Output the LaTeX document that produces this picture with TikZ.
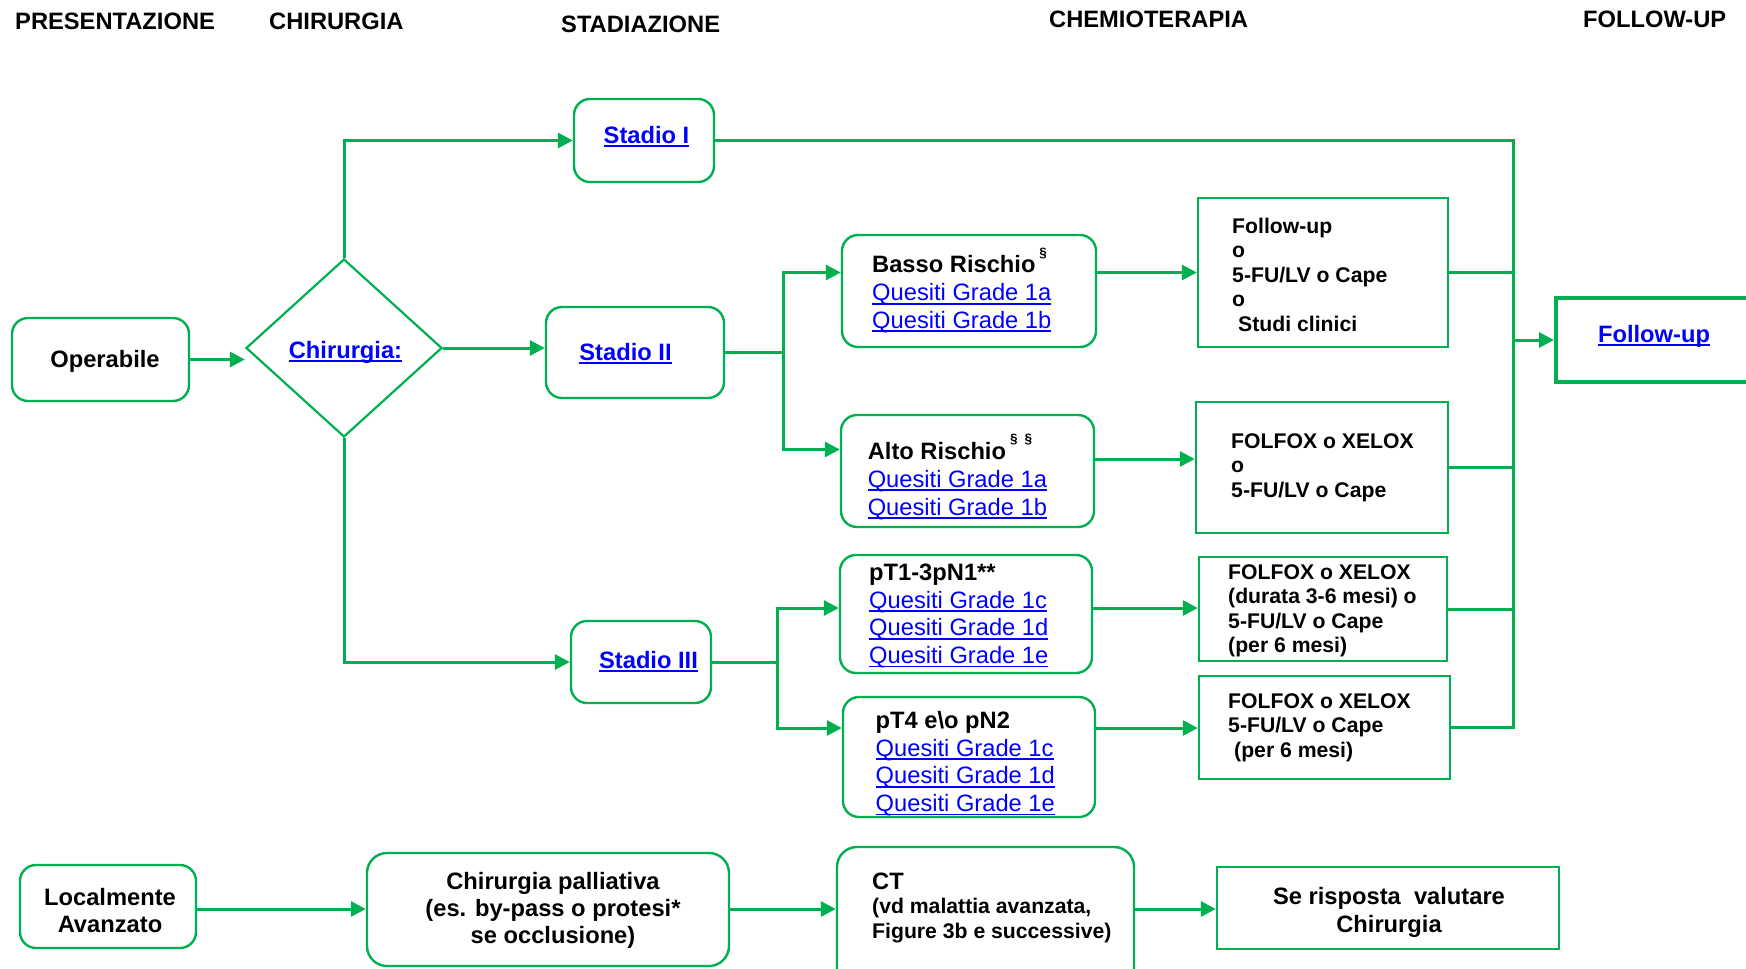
\documentclass[tikz,border=0pt]{standalone}
\usepackage{fontspec}
\setmainfont{Liberation Sans}
\usetikzlibrary{arrows.meta,shapes.geometric,calc}
\definecolor{grn}{HTML}{00B050}
\definecolor{lnkblue}{HTML}{0000FF}
% blue underlined link text
\newcommand\lnk[1]{{\color{lnkblue}\setbox0=\hbox{#1}\rlap{\rule[-3.8pt]{\wd0}{1.9pt}}\box0}}
% invisible strut fixing the height of a first line
\newcommand\tstrut[1]{\rule{0pt}{#1}}
% small raised footnote mark
\newcommand\supmark[2]{\raisebox{#1}{\bfseries\fontsize{13.5}{13.5}\selectfont #2}}

\begin{document}
\begin{tikzpicture}[x=1pt,y=-1pt,
  conn/.style={draw=grn,line width=3pt},
  arr/.style={conn,-{Triangle[length=15pt,width=15pt]}},
  rbox/.style={draw=grn,line width=2.4pt,rounded corners=16pt,inner sep=0pt},
  sbox/.style={draw=grn,line width=2.4pt,inner sep=0pt},
  dia/.style={draw=grn,line width=2.2pt,diamond,inner sep=0pt},
  head/.style={inner sep=0pt,anchor=base west,font=\bfseries\fontsize{23.7}{28}\selectfont},
  lbl/.style={inner sep=0pt,anchor=base,font=\bfseries\fontsize{23.7}{28}\selectfont},
  blk/.style={inner sep=0pt,anchor=north west,align=left,font=\fontsize{23.7}{27.8}\selectfont},
  chem/.style={inner sep=0pt,anchor=north west,align=left,font=\bfseries\fontsize{21.2}{24.5}\selectfont},
  ctr/.style={inner sep=0pt,anchor=north,align=center,font=\bfseries\fontsize{23.7}{27}\selectfont},
]
\fill[white] (0,0) rectangle (1746,969);
\useasboundingbox (0,0) rectangle (1746,969);

% column headings
\node[head] (hPres) at (15,29.5) {PRESENTAZIONE};
\node[head] (hChir) at (269,29.5) {CHIRURGIA};
\node[head] (hStad) at (561,32) {STADIAZIONE};
\node[head] (hChemo) at (1049,27.5) {CHEMIOTERAPIA};
\node[head] (hFollow) at (1583,27.5) {FOLLOW-UP};

% presentation and surgery
\node[rbox,minimum width=177pt,minimum height=83pt] (oper) at (100.5,359.5) {};
\node[lbl] (operT) at (105,367) {Operabile};
\node[dia,minimum width=196pt,minimum height=178pt] (chir) at (344,348) {};
\node[lbl] (chirT) at (345.5,358) {\lnk{Chirurgia:}};

% staging
\node[rbox,minimum width=140pt,minimum height=83pt] (s1) at (644,140.5) {};
\node[lbl] (s1T) at (646.5,143) {\lnk{Stadio I}};
\node[rbox,minimum width=178pt,minimum height=91pt] (s2) at (635,352.5) {};
\node[lbl] (s2T) at (625.5,360) {\lnk{Stadio II}};
\node[rbox,minimum width=140pt,minimum height=82pt] (s3) at (641,662) {};
\node[lbl] (s3T) at (648.5,668) {\lnk{Stadio III}};

% risk groups
\node[rbox,minimum width=254pt,minimum height=112pt] (basso) at (969,291) {};
\node[blk] (bassoT) at (872,246.7) {\tstrut{26pt}{\bfseries Basso Rischio}\,\supmark{15pt}{§}\\ \lnk{Quesiti Grade 1a}\\ \lnk{Quesiti Grade 1b}};
\node[rbox,minimum width=253pt,minimum height=112pt] (alto) at (967.5,471) {};
\node[blk] (altoT) at (867.6,433.3) {\tstrut{26pt}{\bfseries Alto Rischio}\,\supmark{16pt}{§\hspace{7pt}§}\\ \lnk{Quesiti Grade 1a}\\ \lnk{Quesiti Grade 1b}};
\node[rbox,minimum width=252pt,minimum height=118pt] (pt1) at (966,614) {};
\node[blk] (pt1T) at (869,554) {\tstrut{26pt}{\bfseries pT1-3pN1**}\\ \lnk{Quesiti Grade 1c}\\ \lnk{Quesiti Grade 1d}\\ \lnk{Quesiti Grade 1e}};
\node[rbox,minimum width=252pt,minimum height=120pt] (pt4) at (969,757) {};
\node[blk] (pt4T) at (875.5,702) {\tstrut{26pt}{\bfseries pT4 e\textbackslash o pN2}\\ \lnk{Quesiti Grade 1c}\\ \lnk{Quesiti Grade 1d}\\ \lnk{Quesiti Grade 1e}};

% chemotherapy options
\node[sbox,minimum width=250pt,minimum height=149pt] (fu1) at (1323,272.5) {};
\node[chem] (fu1T) at (1232,213) {\tstrut{20pt}Follow-up\\ o\\ 5-FU/LV o Cape\\ o\\ \hspace*{6pt}Studi clinici};
\node[sbox,minimum width=252pt,minimum height=131pt] (ch2) at (1322,467.5) {};
\node[chem] (ch2T) at (1231,428) {\tstrut{20pt}FOLFOX o XELOX\\ o\\ 5-FU/LV o Cape};
\node[sbox,minimum width=248pt,minimum height=104pt] (ch3) at (1323,609) {};
\node[chem] (ch3T) at (1228,559) {\tstrut{20pt}FOLFOX o XELOX\\ (durata 3-6 mesi) o\\ 5-FU/LV o Cape\\ (per 6 mesi)};
\node[sbox,minimum width=251pt,minimum height=103pt] (ch4) at (1324.5,727.5) {};
\node[chem] (ch4T) at (1228,688) {\tstrut{20pt}FOLFOX o XELOX\\ 5-FU/LV o Cape\\ \hspace*{6pt}(per 6 mesi)};

% follow-up
\node[sbox,line width=4pt,minimum width=220pt,minimum height=84pt] (fufin) at (1666,340) {};
\node[lbl] (fufinT) at (1654,342) {\lnk{Follow-up}};

% locally advanced row
\node[rbox,minimum width=176pt,minimum height=83pt] (loc) at (108,906.5) {};
\node[ctr] (locT) at (110,885) {\tstrut{20pt}Localmente\\ Avanzato};
\node[rbox,rounded corners=20pt,minimum width=362pt,minimum height=113pt] (pall) at (548,909.5) {};
\node[ctr] (pallT) at (553,869) {\tstrut{20pt}Chirurgia palliativa\\ (es. by-pass o protesi*\\ se occlusione)};
\node[rbox,rounded corners=20pt,minimum width=297pt,minimum height=150pt] (ct) at (985.5,922) {};
\node[chem] (ctT) at (872,869) {\tstrut{20pt}{\fontsize{23.7}{24.5}\selectfont CT}\\ (vd malattia avanzata,\\ Figure 3b e successive)};
\node[sbox,minimum width=342pt,minimum height=82pt] (se) at (1388,908) {};
\node[ctr,font=\bfseries\fontsize{23.7}{28}\selectfont] (seT) at (1389,884) {\tstrut{20pt}Se risposta~ valutare\\ Chirurgia};

% routing references
\coordinate (rowA) at (0,272.5);
\coordinate (rowBin) at (0,449.5);
\coordinate (rowBout) at (0,459);
\coordinate (rowC) at (0,608);
\coordinate (rowD) at (0,728);
\coordinate (rowE) at (0,909);
\coordinate (split2) at (783,0);
\coordinate (split3) at (777,0);
\coordinate (busx) at (1513,0);

% connectors
\draw[arr] (oper.east) -- (oper.east -| chir.west);
\draw[arr] (chir.north) |- (s1.west);
\draw[arr] (chir.east) -- (chir.east -| s2.west);
\draw[arr] (chir.south) |- (s3.west);

\draw[arr] (s2.east) -| (split2 |- rowA) -- (basso.west |- rowA);
\draw[arr] (split2 |- s2.east) |- (alto.west |- rowBin);
\draw[arr] (s3.east) -| (split3 |- rowC) -- (pt1.west |- rowC);
\draw[arr] (split3 |- s3.east) |- (pt4.west |- rowD);

\draw[arr] (basso.east |- rowA) -- (fu1.west |- rowA);
\draw[arr] (alto.east |- rowBout) -- (ch2.west |- rowBout);
\draw[arr] (pt1.east |- rowC) -- (ch3.west |- rowC);
\draw[arr] (pt4.east |- rowD) -- (ch4.west |- rowD);

\draw[conn] (s1.east) -| (busx |- ch4.east) -- (ch4.east);
\draw[conn] (fu1.east) -- (busx |- fu1.east);
\draw[conn] (ch2.east) -- (busx |- ch2.east);
\draw[conn] (ch3.east) -- (busx |- ch3.east);
\draw[arr] (busx |- fufin.west) -- (fufin.west);

\draw[arr] (loc.east |- rowE) -- (pall.west |- rowE);
\draw[arr] (pall.east |- rowE) -- (ct.west |- rowE);
\draw[arr] (ct.east |- rowE) -- (se.west |- rowE);
\end{tikzpicture}
\end{document}
